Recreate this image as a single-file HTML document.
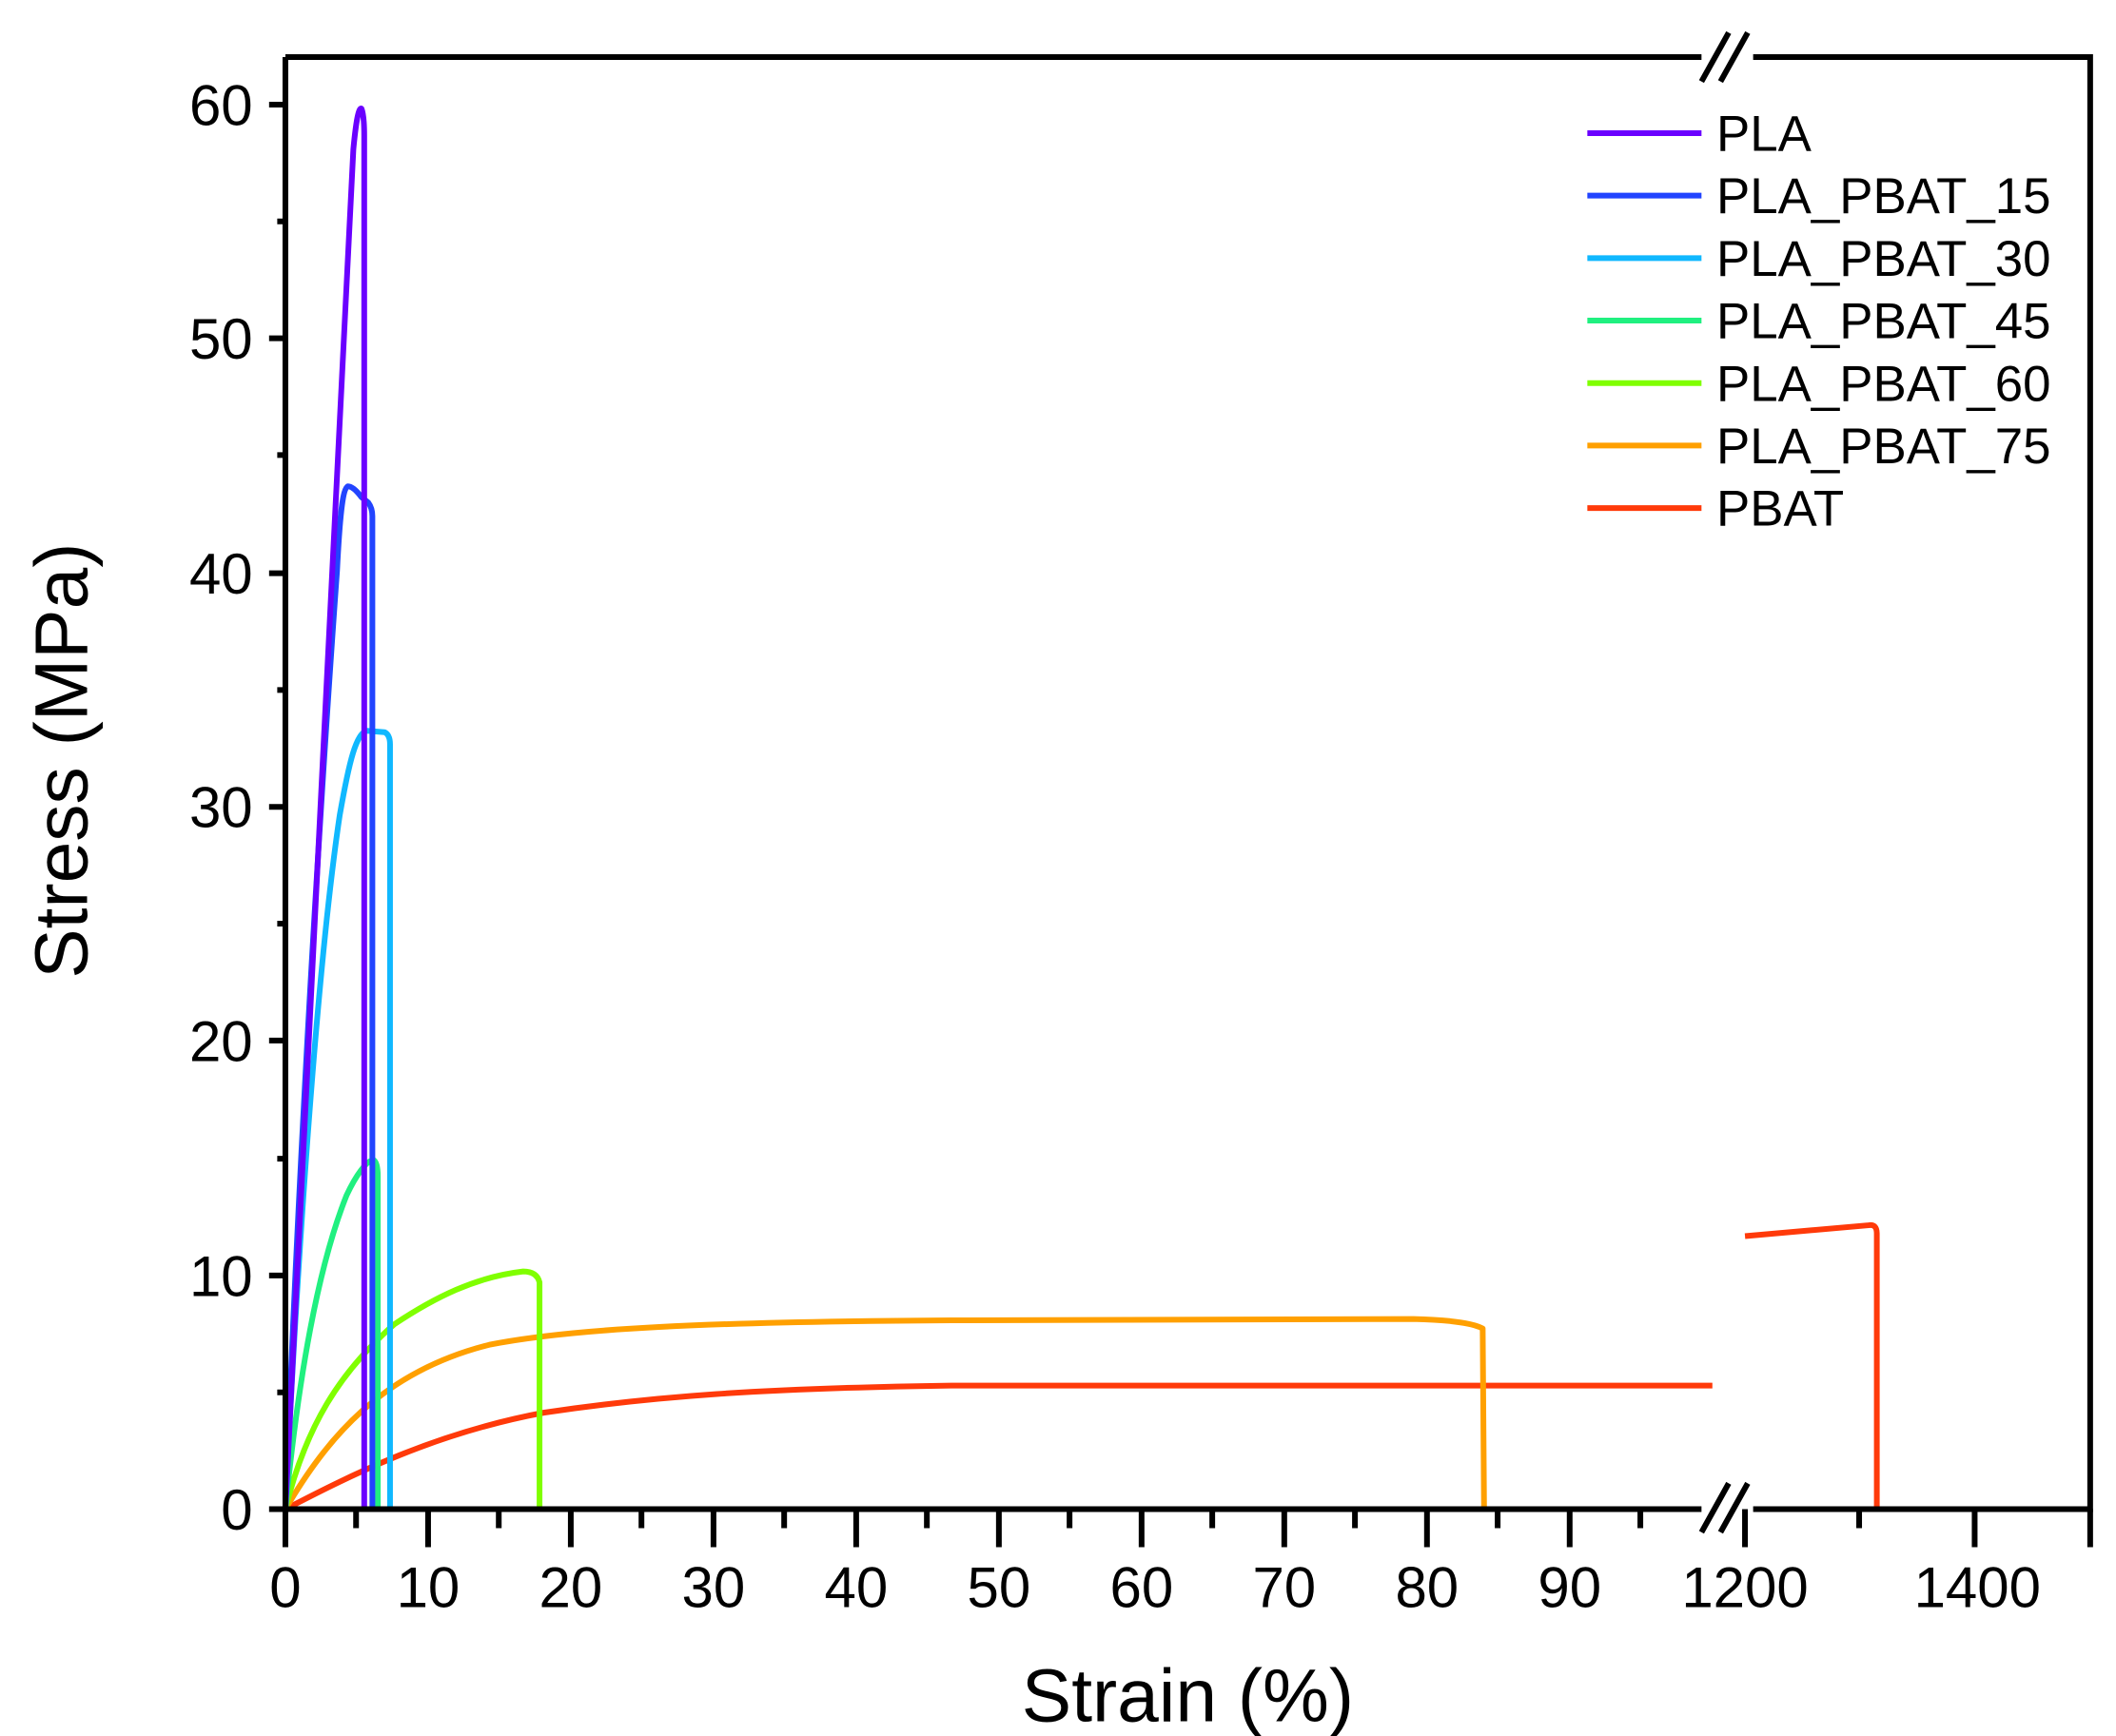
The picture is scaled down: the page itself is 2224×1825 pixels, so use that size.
<!DOCTYPE html>
<html><head><style>html,body{margin:0;padding:0;background:#fff}svg{display:block}</style></head>
<body>
<svg width="2224" height="1825" viewBox="0 0 1557 1278" preserveAspectRatio="none" xmlns="http://www.w3.org/2000/svg" font-family="Liberation Sans, Arial, sans-serif">
<rect width="1557" height="1278" fill="#fff"/>
<g fill="none" stroke-width="4.2" stroke-linejoin="round">
<path d="M210,1111 C260,1085 320,1055 400,1040 C480,1028 560,1022 700,1020 L1260,1020" stroke="#ff3a0a"/>
<path d="M1284,910 L1375,902 Q1381,901 1381,908 L1381,1111" stroke="#ff3a0a"/>
<path d="M210,1111 C240,1060 280,1010 360,990 C420,978 520,973 700,972 L1040,971 Q1080,972 1091,978 L1092,1111" stroke="#ffa000"/>
<path d="M210,1111 C225,1050 250,1010 290,975 C320,955 350,940 385,936 Q395,936 397,944 L397,1111" stroke="#80ff00"/>
<path d="M210,1111 C220,1010 235,930 255,880 C262,865 270,854 275,854 Q278,856 278,866 L278,1111" stroke="#20f080"/>
<path d="M210,1111 C220,900 235,700 250,600 C257,560 262,540 270,538 L283,539 Q287,541 287,548 L287,1111" stroke="#10b8ff"/>
<path d="M210,1111 C220,850 235,600 248,420 C250,380 252,360 256,358 Q260,358 266,366 L271,370 Q274,374 274,380 L274,1111" stroke="#2244ff"/>
<path d="M210,1111 L260,110 Q263,78 266,80 Q268,85 268,100 L268,1111" stroke="#6a00ff"/>
</g>
<g stroke="#000" stroke-width="4.2" fill="none">
<path d="M210,42 L1252,42 M1290,42 L1538,42 L1538,1111 L1290,1111 M1252,1111 L210,1111 L210,42"/>
<path d="M1252,1128 L1272,1092 M1266,1128 L1286,1092 M1252,60 L1272,24 M1266,60 L1286,24"/>
<path d="M210,1111h-12M210,939h-12M210,766h-12M210,594h-12M210,422h-12M210,249h-12M210,77h-12"/>
<path d="M210,1025h-6M210,853h-6M210,680h-6M210,508h-6M210,335h-6M210,163h-6"/>
<path d="M210,1111v28M315,1111v28M420,1111v28M525,1111v28M630,1111v28M735,1111v28M840,1111v28M945,1111v28M1050,1111v28M1155,1111v28M1284,1111v28M1453,1111v28M1538,1111v28"/>
<path d="M262,1111v14M367,1111v14M472,1111v14M577,1111v14M682,1111v14M787,1111v14M892,1111v14M997,1111v14M1102,1111v14M1207,1111v14M1368,1111v14"/>
</g>
<g font-size="42" text-anchor="end" fill="#000">
<text x="186" y="1126">0</text><text x="186" y="954">10</text><text x="186" y="781">20</text><text x="186" y="609">30</text><text x="186" y="437">40</text><text x="186" y="264">50</text><text x="186" y="92">60</text>
</g>
<g font-size="42" text-anchor="middle" fill="#000">
<text x="210" y="1183">0</text><text x="315" y="1183">10</text><text x="420" y="1183">20</text><text x="525" y="1183">30</text><text x="630" y="1183">40</text><text x="735" y="1183">50</text><text x="840" y="1183">60</text><text x="945" y="1183">70</text><text x="1050" y="1183">80</text><text x="1155" y="1183">90</text><text x="1284" y="1183">1200</text><text x="1455" y="1183">1400</text>
</g>
<text x="874" y="1267" font-size="55" text-anchor="middle">Strain (%)</text>
<text transform="translate(64,560) rotate(-90)" font-size="55" text-anchor="middle">Stress (MPa)</text>
<g stroke-width="4.2">
<line x1="1168" y1="98" x2="1252" y2="98" stroke="#6a00ff"/>
<line x1="1168" y1="144" x2="1252" y2="144" stroke="#2244ff"/>
<line x1="1168" y1="190" x2="1252" y2="190" stroke="#10b8ff"/>
<line x1="1168" y1="236" x2="1252" y2="236" stroke="#20f080"/>
<line x1="1168" y1="282" x2="1252" y2="282" stroke="#80ff00"/>
<line x1="1168" y1="328" x2="1252" y2="328" stroke="#ffa000"/>
<line x1="1168" y1="374" x2="1252" y2="374" stroke="#ff3a0a"/>
</g>
<g font-size="37" fill="#000">
<text x="1263" y="111">PLA</text><text x="1263" y="157">PLA_PBAT_15</text><text x="1263" y="203">PLA_PBAT_30</text><text x="1263" y="249">PLA_PBAT_45</text><text x="1263" y="295">PLA_PBAT_60</text><text x="1263" y="341">PLA_PBAT_75</text><text x="1263" y="387">PBAT</text>
</g>
</svg>
</body></html>
